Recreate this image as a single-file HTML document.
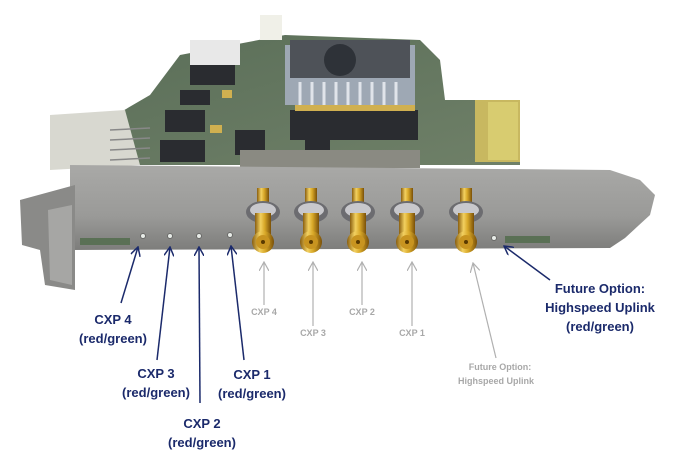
<!DOCTYPE html>
<html><head><style>
body{margin:0;background:#fff;}
svg{display:block}
.n{font-family:"Liberation Sans",sans-serif;font-weight:bold;font-size:13px;fill:#1b2a6b;text-anchor:middle}
.g{font-family:"Liberation Sans",sans-serif;font-weight:bold;font-size:9px;fill:#a8a8a8;text-anchor:middle}
</style></head><body>
<svg width="680" height="456" viewBox="0 0 680 456" xmlns="http://www.w3.org/2000/svg">
<defs>
<linearGradient id="plate" x1="0" y1="0" x2="0" y2="1"><stop offset="0" stop-color="#a9a9a7"/><stop offset="0.6" stop-color="#9a9a98"/><stop offset="1" stop-color="#7d7d7b"/></linearGradient>
<linearGradient id="gold" x1="0" y1="0" x2="1" y2="0"><stop offset="0" stop-color="#8a5f10"/><stop offset="0.35" stop-color="#f2d060"/><stop offset="0.6" stop-color="#d8a828"/><stop offset="1" stop-color="#7a5008"/></linearGradient>
<linearGradient id="pcb" x1="0" y1="0" x2="1" y2="1"><stop offset="0" stop-color="#5a6e58"/><stop offset="1" stop-color="#6f8068"/></linearGradient>
<marker id="an" markerWidth="10" markerHeight="10" refX="9" refY="5" orient="auto" markerUnits="userSpaceOnUse"><path d="M0,0 L9,5 L0,10" fill="none" stroke="#1b2a6b" stroke-width="1.5"/></marker>
<marker id="ag" markerWidth="10" markerHeight="10" refX="9" refY="5" orient="auto" markerUnits="userSpaceOnUse"><path d="M0,0 L9,5 L0,10" fill="none" stroke="#b0b0b0" stroke-width="1.2"/></marker>
</defs>
<!-- PCB -->
<polygon points="180,55 285,35 420,40 440,60 445,100 520,100 520,165 70,165 90,130 150,95" fill="url(#pcb)"/>
<rect x="475" y="100" width="45" height="62" fill="#c8b860"/>
<rect x="488" y="102" width="30" height="58" fill="#d8cc70"/>
<!-- heatsink -->
<rect x="285" y="45" width="130" height="60" fill="#9ea8b4"/>
<rect x="290" y="40" width="120" height="38" fill="#4e5258"/>
<circle cx="340" cy="60" r="16" fill="#2e3238"/>
<g stroke="#e0e4ea" stroke-width="3"><line x1="300" y1="82" x2="300" y2="105"/><line x1="312" y1="82" x2="312" y2="105"/><line x1="324" y1="82" x2="324" y2="105"/><line x1="336" y1="82" x2="336" y2="105"/><line x1="348" y1="82" x2="348" y2="105"/><line x1="360" y1="82" x2="360" y2="105"/><line x1="372" y1="82" x2="372" y2="105"/><line x1="384" y1="82" x2="384" y2="105"/><line x1="396" y1="82" x2="396" y2="105"/></g>
<rect x="260" y="15" width="22" height="25" fill="#f0f0e8"/>
<rect x="190" y="40" width="50" height="25" fill="#e8e8e8"/>
<!-- chips -->
<g fill="#2a2c30">
<rect x="190" y="65" width="45" height="20"/><rect x="180" y="90" width="30" height="15"/><rect x="165" y="110" width="40" height="22"/><rect x="160" y="140" width="45" height="22"/>
<rect x="290" y="110" width="40" height="30"/><rect x="322" y="110" width="40" height="30"/><rect x="355" y="110" width="40" height="30"/><rect x="388" y="110" width="30" height="30"/>
<rect x="305" y="130" width="25" height="20"/><rect x="235" y="130" width="30" height="25"/>
</g>
<rect x="240" y="150" width="180" height="18" fill="#8a8a82"/>
<g fill="#d0b050"><rect x="295" y="105" width="120" height="6"/><rect x="355" y="172" width="15" height="12"/><rect x="222" y="90" width="10" height="8"/><rect x="210" y="125" width="12" height="8"/></g>
<!-- left connector -->
<polygon points="50,115 125,110 140,165 50,170" fill="#d8d8d0"/>
<g stroke="#888" stroke-width="1.5"><line x1="110" y1="130" x2="150" y2="128"/><line x1="110" y1="140" x2="150" y2="138"/><line x1="110" y1="150" x2="150" y2="148"/><line x1="110" y1="160" x2="150" y2="158"/></g>
<!-- bracket plate -->
<polygon points="70,165 610,170 640,180 655,195 650,215 625,238 610,248 70,250" fill="url(#plate)"/>
<polygon points="20,200 75,185 75,290 45,285 40,250 22,245" fill="#8a8a88"/>
<polygon points="48,210 72,205 72,285 50,280" fill="#a6a6a4"/>
<rect x="80" y="238" width="50" height="7" fill="#5a7055"/>
<rect x="505" y="236" width="45" height="7" fill="#5a7055"/>
<!-- LED holes -->
<g fill="#e8ece8" stroke="#6a6a68" stroke-width="1"><circle cx="143" cy="236" r="2.5"/><circle cx="170" cy="236" r="2.5"/><circle cx="199" cy="236" r="2.5"/><circle cx="230" cy="235" r="2.5"/><circle cx="494" cy="238" r="2.5"/></g>
<!-- connectors -->
<g id="c">
</g>
<g>
<g transform="translate(263,0)"><rect x="-6" y="188" width="12" height="16" fill="url(#gold)"/><ellipse cx="0" cy="212" rx="17" ry="11" fill="#6c6c70"/><ellipse cx="0" cy="210" rx="13" ry="7" fill="#c8c8cc"/><rect x="-8" y="213" width="16" height="22" fill="url(#gold)"/><circle cx="0" cy="242" r="11" fill="url(#gold)"/><circle cx="0" cy="242" r="7" fill="#c89420"/><circle cx="0" cy="242" r="2" fill="#5a3a00"/></g>
<g transform="translate(311,0)"><rect x="-6" y="188" width="12" height="16" fill="url(#gold)"/><ellipse cx="0" cy="212" rx="17" ry="11" fill="#6c6c70"/><ellipse cx="0" cy="210" rx="13" ry="7" fill="#c8c8cc"/><rect x="-8" y="213" width="16" height="22" fill="url(#gold)"/><circle cx="0" cy="242" r="11" fill="url(#gold)"/><circle cx="0" cy="242" r="7" fill="#c89420"/><circle cx="0" cy="242" r="2" fill="#5a3a00"/></g>
<g transform="translate(358,0)"><rect x="-6" y="188" width="12" height="16" fill="url(#gold)"/><ellipse cx="0" cy="212" rx="17" ry="11" fill="#6c6c70"/><ellipse cx="0" cy="210" rx="13" ry="7" fill="#c8c8cc"/><rect x="-8" y="213" width="16" height="22" fill="url(#gold)"/><circle cx="0" cy="242" r="11" fill="url(#gold)"/><circle cx="0" cy="242" r="7" fill="#c89420"/><circle cx="0" cy="242" r="2" fill="#5a3a00"/></g>
<g transform="translate(407,0)"><rect x="-6" y="188" width="12" height="16" fill="url(#gold)"/><ellipse cx="0" cy="212" rx="17" ry="11" fill="#6c6c70"/><ellipse cx="0" cy="210" rx="13" ry="7" fill="#c8c8cc"/><rect x="-8" y="213" width="16" height="22" fill="url(#gold)"/><circle cx="0" cy="242" r="11" fill="url(#gold)"/><circle cx="0" cy="242" r="7" fill="#c89420"/><circle cx="0" cy="242" r="2" fill="#5a3a00"/></g>
<g transform="translate(466,0)"><rect x="-6" y="188" width="12" height="16" fill="url(#gold)"/><ellipse cx="0" cy="212" rx="17" ry="11" fill="#6c6c70"/><ellipse cx="0" cy="210" rx="13" ry="7" fill="#c8c8cc"/><rect x="-8" y="213" width="16" height="22" fill="url(#gold)"/><circle cx="0" cy="242" r="11" fill="url(#gold)"/><circle cx="0" cy="242" r="7" fill="#c89420"/><circle cx="0" cy="242" r="2" fill="#5a3a00"/></g>
</g>
<!-- navy arrows -->
<g stroke="#1b2a6b" stroke-width="1.5" fill="none">
<line x1="121" y1="303" x2="138" y2="247" marker-end="url(#an)"/>
<line x1="157" y1="360" x2="170" y2="247" marker-end="url(#an)"/>
<line x1="200" y1="403" x2="199" y2="247" marker-end="url(#an)"/>
<line x1="244" y1="360" x2="231" y2="246" marker-end="url(#an)"/>
<line x1="550" y1="280" x2="504" y2="246" marker-end="url(#an)"/>
</g>
<!-- gray arrows -->
<g stroke="#b0b0b0" stroke-width="1.2" fill="none">
<line x1="264" y1="305" x2="264" y2="262" marker-end="url(#ag)"/>
<line x1="313" y1="326" x2="313" y2="262" marker-end="url(#ag)"/>
<line x1="362" y1="305" x2="362" y2="262" marker-end="url(#ag)"/>
<line x1="412" y1="326" x2="412" y2="262" marker-end="url(#ag)"/>
<line x1="496" y1="358" x2="473" y2="263" marker-end="url(#ag)"/>
</g>
<!-- labels -->
<text class="n" x="113" y="324">CXP 4</text><text class="n" x="113" y="343">(red/green)</text>
<text class="n" x="156" y="378">CXP 3</text><text class="n" x="156" y="397">(red/green)</text>
<text class="n" x="202" y="428">CXP 2</text><text class="n" x="202" y="447">(red/green)</text>
<text class="n" x="252" y="379">CXP 1</text><text class="n" x="252" y="398">(red/green)</text>
<text class="n" x="600" y="293">Future Option:</text><text class="n" x="600" y="312">Highspeed Uplink</text><text class="n" x="600" y="331">(red/green)</text>
<text class="g" x="264" y="315">CXP 4</text>
<text class="g" x="313" y="336">CXP 3</text>
<text class="g" x="362" y="315">CXP 2</text>
<text class="g" x="412" y="336">CXP 1</text>
<text class="g" x="500" y="370">Future Option:</text>
<text class="g" x="496" y="384">Highspeed Uplink</text>
</svg>
</body></html>
